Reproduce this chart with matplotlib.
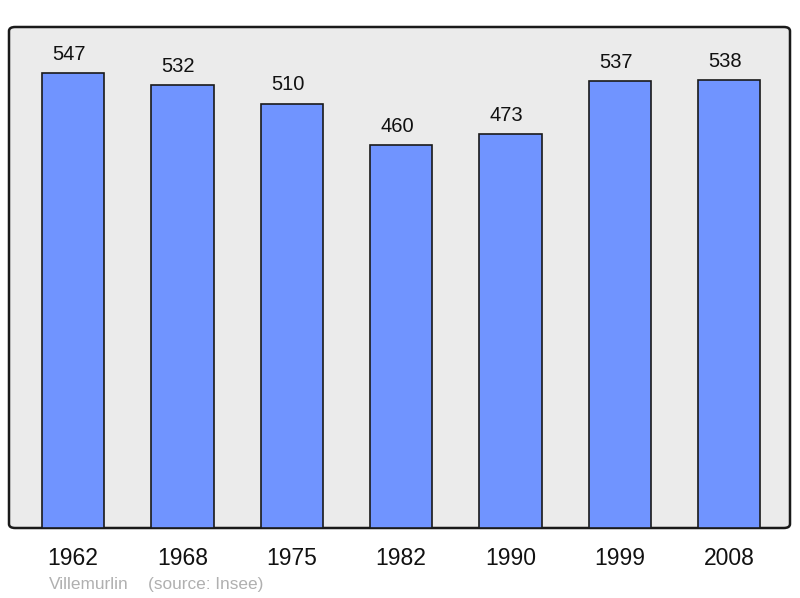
import matplotlib.pyplot as plt
from matplotlib.patches import FancyBboxPatch

years = ['1962', '1968', '1975', '1982', '1990', '1999', '2008']
population = [547, 532, 510, 460, 473, 537, 538]
town = 'Villemurlin'
source = '(source: Insee)'

plt.rcParams['font.family'] = ['Liberation Sans', 'DejaVu Sans']

fig = plt.figure(figsize=(8, 5.98), dpi=100)
ax = fig.add_axes([9 / 800, 70 / 598, 781 / 800, 501 / 598])
ax.set_facecolor('none')

# rounded grey frame behind the bars
frame = FancyBboxPatch((0, 0), 1, 1, boxstyle='round,pad=0,rounding_size=0.008',
                       transform=ax.transAxes, facecolor='#ebebeb',
                       edgecolor='#1a1a1a', linewidth=1.8, zorder=0, clip_on=False)
ax.add_patch(frame)

x = list(range(len(years)))
ax.bar(x, population, width=0.57, color='#7094ff', edgecolor='#1a1a1a',
       linewidth=1.2, zorder=2)

for xi, v in zip(x, population):
    ax.annotate(str(v), (xi, v), xytext=(-3, 13.5), textcoords='offset points',
                ha='center', va='center', fontsize=14.5, color='#111111')

ax.set_xlim(-0.585, 6.555)
ax.set_ylim(0, 602)
for s in ax.spines.values():
    s.set_visible(False)
ax.set_yticks([])
ax.set_xticks(x)
ax.set_xticklabels(years, fontsize=16.5, color='#111111')
ax.tick_params(axis='x', length=0, pad=13.5)

fig.text(49 / 800, 1 - 584.5 / 598, town, fontsize=12.4, color='#b0b0b0',
         ha='left', va='center')
fig.text(148 / 800, 1 - 584.5 / 598, source, fontsize=12.4, color='#b0b0b0',
         ha='left', va='center')

fig.savefig('out.png', dpi=100)
